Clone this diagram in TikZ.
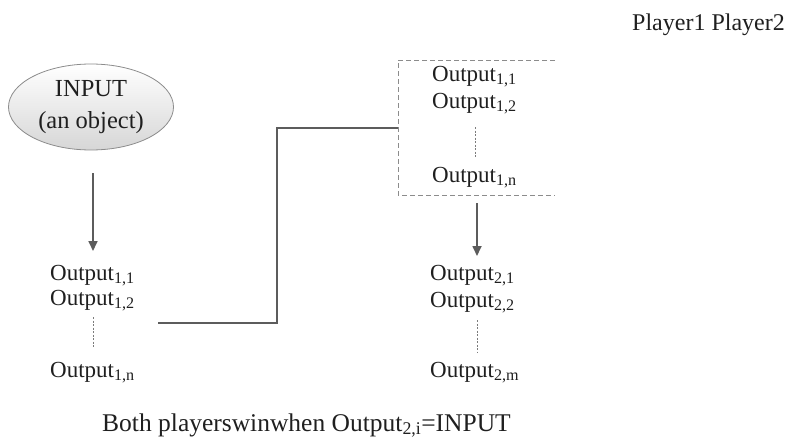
\documentclass[tikz,border=0pt]{standalone}
\usepackage{fontspec}
\setmainfont{Liberation Serif}
\usetikzlibrary{positioning,calc,shapes.geometric,arrows.meta}
\definecolor{linegray}{rgb}{0.36,0.36,0.36}
\definecolor{dashgray}{rgb}{0.55,0.55,0.55}
\definecolor{ovalgray}{rgb}{0.84,0.84,0.84}
\definecolor{inkgray}{rgb}{0.12,0.12,0.12}
\newcommand{\outp}[1]{Output\textsubscript{#1}}

\begin{document}
\begin{tikzpicture}[x=1pt,y=-1pt,
	every node/.style={text=inkgray,font=\fontsize{23}{27}\selectfont},
	lbl/.style={anchor=base west,inner sep=0pt},
	flow/.style={linegray,line width=1.7pt,-{Triangle[length=10pt,width=9pt]}},
	link/.style={linegray,line width=1.7pt},
	dots/.style={linegray!80,line width=1pt,dash pattern=on 2pt off 1.5pt},
	boxline/.style={dashgray,line width=0.9pt,dash pattern=on 5pt off 3pt}]
	\useasboundingbox (0,0) rectangle (791,439);
	
	\node[lbl,font=\fontsize{24}{28}\selectfont] (players) at (632,30) {Player1 Player2};
	
	\node[ellipse,draw=dashgray,line width=0.8pt,top color=white,bottom color=ovalgray,minimum width=165pt,minimum height=86pt,align=center,inner sep=0pt,font=\fontsize{24.5}{32}\selectfont] (in) at (91,107) {INPUT\\(an object)};
	
	% player 1
	\node[lbl] (a1) at (50,280) {\outp{1,1}};
	\node[lbl] (a2) at (50,305) {\outp{1,2}};
	\node[lbl] (an) at (50,377) {\outp{1,n}};
	
	% what player 2 gets
	\node[lbl] (b1) at (432,81) {\outp{1,1}};
	\node[lbl] (b2) at (432,108) {\outp{1,2}};
	\node[lbl] (bn) at (432,182) {\outp{1,n}};
	
	\node[lbl] (c1) at (430,280) {\outp{2,1}};
	\node[lbl] (c2) at (430,307) {\outp{2,2}};
	\node[lbl] (cm) at (430,377) {\outp{2,m}};
	
	\node[lbl,font=\fontsize{25.5}{30}\selectfont] (win) at (102,431) {Both playerswinwhen \outp{2,i}=INPUT};
	
	\coordinate (boxNW) at (398,60);
	\coordinate (boxSW) at (398,195);
	\coordinate (boxNE) at (555,60);
	\coordinate (boxSE) at (555,195);
	\coordinate (boxIn) at (398,128);
	\coordinate (send) at (158,323);
	
	\draw[boxline] (boxNE) -- (boxNW) -- (boxSW) -- (boxSE);
	
	\draw[flow] (93,173) -- (93,251);
	\draw[flow] (477,203) -- (477,256);
	
	\draw[dots] (93,317) -- (93,348);
	\draw[dots] (475,127) -- (475,157);
	\draw[dots] (477,320) -- (477,352);
	
	\draw[link] (send) -- ++(119,0) |- (boxIn);
	
\end{tikzpicture}
\end{document}
